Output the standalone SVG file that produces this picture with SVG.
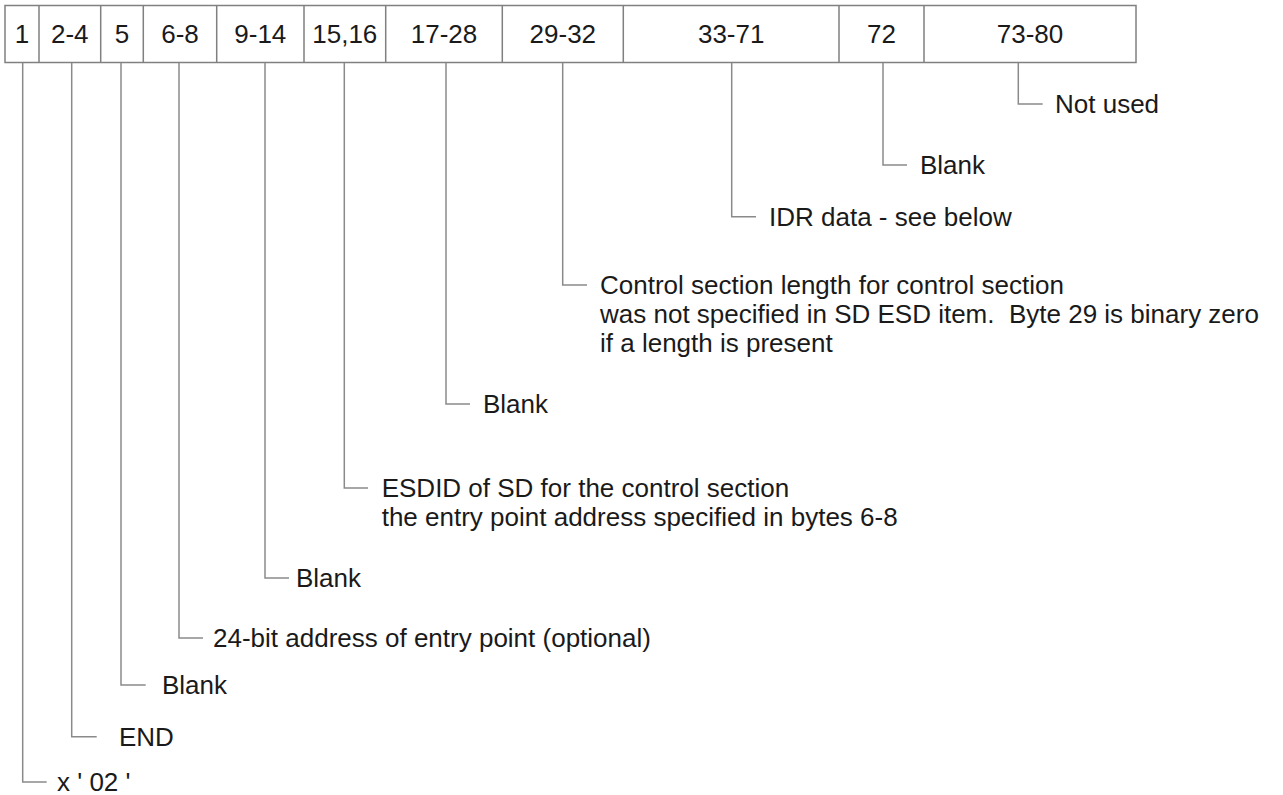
<svg xmlns="http://www.w3.org/2000/svg" width="1283" height="795" viewBox="0 0 1283 795">
<style>
.t{font-family:"Liberation Sans",Arial,Helvetica,sans-serif;font-size:26px;fill:#1a1a1a;white-space:pre}
.c{text-anchor:middle}
.b{fill:#fff;stroke:#808080;stroke-width:1.5}
.d{stroke:#808080;stroke-width:1.5;fill:none}
.l{stroke:#8a8a8a;stroke-width:1.5;fill:none}
</style>
<rect width="1283" height="795" fill="#fff"/>
<g id="record">
<rect class="b" x="5" y="5.5" width="1131" height="57"/>
<path class="d" d="M39 5.5V62.5M100.7 5.5V62.5M143.3 5.5V62.5M216.7 5.5V62.5M304 5.5V62.5M385.7 5.5V62.5M502.3 5.5V62.5M623.3 5.5V62.5M839 5.5V62.5M924 5.5V62.5"/>
<text class="t c" x="22" y="43">1</text>
<text class="t c" x="69.8" y="43">2-4</text>
<text class="t c" x="122" y="43">5</text>
<text class="t c" x="180" y="43">6-8</text>
<text class="t c" x="260.3" y="43">9-14</text>
<text class="t c" x="344.8" y="43">15,16</text>
<text class="t c" x="444" y="43">17-28</text>
<text class="t c" x="562.8" y="43">29-32</text>
<text class="t c" x="731.2" y="43">33-71</text>
<text class="t c" x="881.5" y="43">72</text>
<text class="t c" x="1030" y="43">73-80</text>
</g>
<g id="connectors">
<path class="l" d="M22.7 63V782H46.7"/>
<path class="l" d="M71.7 63V736.7H96.7"/>
<path class="l" d="M121 63V685H145.7"/>
<path class="l" d="M179 63V638H203"/>
<path class="l" d="M265 63V578H289"/>
<path class="l" d="M344.3 63V488H368"/>
<path class="l" d="M446 63V404H470"/>
<path class="l" d="M562.7 63V285H587"/>
<path class="l" d="M731.7 63V216.7H756"/>
<path class="l" d="M883 63V165H907"/>
<path class="l" d="M1018.3 63V104H1042.7"/>
</g>
<g id="n1"><text class="t" x="57" y="790.5">x ' 02 '</text></g>
<g id="n2"><text class="t" x="119" y="745.7">END</text></g>
<g id="n3"><text class="t" x="162" y="694">Blank</text></g>
<g id="n4"><text class="t" x="213" y="647">24-bit address of entry point (optional)</text></g>
<g id="n5"><text class="t" x="296" y="587">Blank</text></g>
<g id="n6"><text class="t" x="381.7" y="497">ESDID of SD for the control section</text><text class="t" x="381.7" y="526">the entry point address specified in bytes 6-8</text></g>
<g id="n7"><text class="t" x="483" y="413">Blank</text></g>
<g id="n8"><text class="t" x="600" y="294">Control section length for control section</text><text class="t" x="600" y="323" xml:space="preserve">was not specified in SD ESD item.  Byte 29 is binary zero</text><text class="t" x="600" y="352">if a length is present</text></g>
<g id="n9"><text class="t" x="769" y="225.7">IDR data - see below</text></g>
<g id="n10"><text class="t" x="920" y="174">Blank</text></g>
<g id="n11"><text class="t" x="1055" y="113">Not used</text></g>
</svg>
